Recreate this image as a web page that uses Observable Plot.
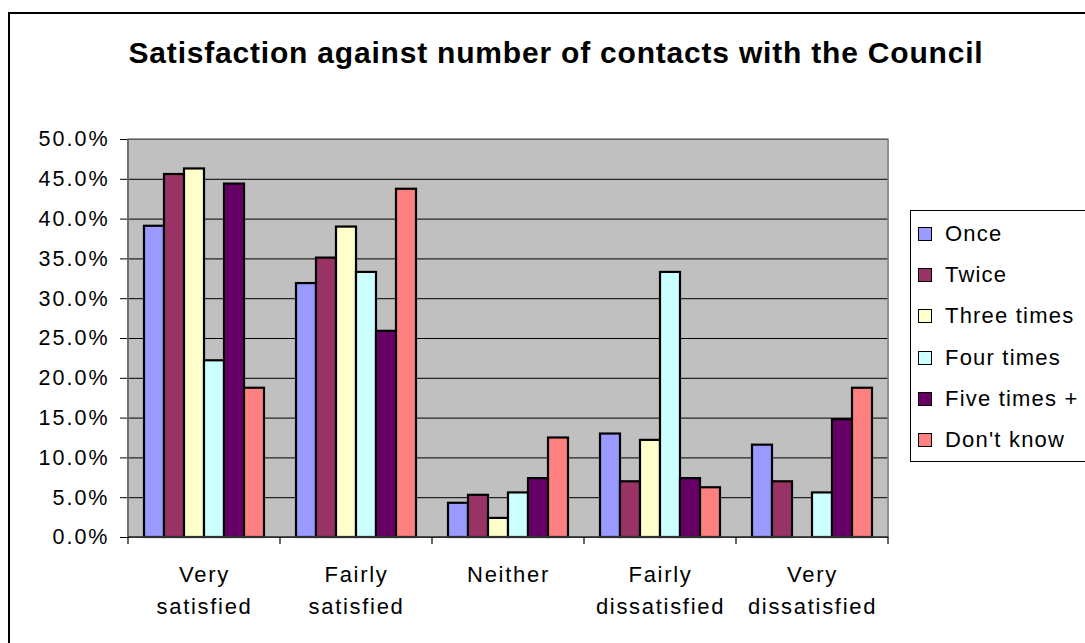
<!DOCTYPE html>
<html>
<head>
<meta charset="utf-8">
<script src="https://cdn.jsdelivr.net/npm/d3@7"></script>
<script src="https://cdn.jsdelivr.net/npm/@observablehq/plot@0.6"></script>
<style>
  html, body { margin: 0; padding: 0; overflow: hidden; background: #fff; }
  body { width: 1085px; height: 643px; position: relative; font-family: "Liberation Sans", Arial, sans-serif; }
  #frame { position: absolute; left: 8px; top: 12px; width: 1200px; height: 800px; border: 2px solid #000; box-sizing: border-box; }
  #title { position: absolute; left: 0; top: 38px; width: 1112px; text-align: center; font-size: 30px; line-height: 30px; font-weight: bold; letter-spacing: 0.8px; color: #000; }
  #chart { position: absolute; left: 0; top: 0; }
  #legend { position: absolute; left: 910px; top: 210px; width: 220px; height: 252px; border: 1.5px solid #000; background: #fff; box-sizing: border-box; }
  .row { position: absolute; left: 0; height: 22px; line-height: 22px; font-size: 22px; letter-spacing: 1.2px; white-space: nowrap; }
  .sw { position: absolute; left: 7px; top: 4px; width: 14px; height: 14px; border: 1.5px solid #000; box-sizing: border-box; }
  .lab { position: absolute; left: 34px; top: 0; }
</style>
</head>
<body>
<div id="frame"></div>
<div id="chart"></div>
<div id="title">Satisfaction against number of contacts with the Council</div>
<div id="legend"></div>
<script>
const categories = ["Very satisfied", "Fairly satisfied", "Neither", "Fairly dissatisfied", "Very dissatisfied"];
const categoryLabels = ["Very\nsatisfied", "Fairly\nsatisfied", "Neither", "Fairly\ndissatisfied", "Very\ndissatisfied"];
const series = ["Once", "Twice", "Three times", "Four times", "Five times +", "Don't know"];
const colors = ["#9999FF", "#993366", "#FFFFCC", "#CCFFFF", "#660066", "#FF8080"];

const once       = [0.391, 0.319, 0.043, 0.130, 0.116];
const twice      = [0.456, 0.351, 0.053, 0.070, 0.070];
const threeTimes = [0.463, 0.390, 0.024, 0.122, 0.000];
const fourTimes  = [0.222, 0.333, 0.056, 0.333, 0.056];
const fivePlus   = [0.444, 0.259, 0.074, 0.074, 0.148];
const dontKnow   = [0.1875, 0.4375, 0.125, 0.0625, 0.1875];

const yTicks = [0, 0.05, 0.10, 0.15, 0.20, 0.25, 0.30, 0.35, 0.40, 0.45, 0.50];

const seriesValues = [once, twice, threeTimes, fourTimes, fivePlus, dontKnow];
const data = categories.flatMap((c, i) =>
  series.map((s, j) => ({category: c, series: s, value: seriesValues[j][i]}))
);

const plot = Plot.plot({
  width: 1085,
  height: 643,
  marginLeft: 128,
  marginRight: 197,
  marginTop: 139,
  marginBottom: 106,
  style: {fontFamily: "'Liberation Sans', Arial, sans-serif", background: "transparent", color: "#000", overflow: "visible"},
  fx: {domain: categories, padding: 0, label: null, axis: null},
  x: {domain: series, paddingInner: 0, paddingOuter: 0.725, axis: null},
  y: {domain: [0, 0.5], label: null},
  color: {domain: series, range: colors},
  marks: [
    Plot.frame({fill: "#C0C0C0", shapeRendering: "crispEdges"}),
    Plot.ruleY(yTicks, {stroke: "#000", strokeWidth: 1}),
    Plot.barY(data.filter(d => d.value > 0), {
      fx: "category", x: "series", y: "value",
      fill: "series", stroke: "#000", strokeWidth: 2.2
    }),
    Plot.axisY(yTicks, {
      tickSize: 8, tickPadding: 11, tickFormat: d3.format(".1%"),
      fontSize: 21.5, label: null, stroke: "#000", fill: "#000"
    }),
    Plot.axisFx({
      anchor: "bottom",
      tickSize: 0, tickPadding: 22, fontSize: 22, lineHeight: 1.45, label: null,
      tickFormat: d => categoryLabels[categories.indexOf(d)], fill: "#000"
    })
  ]
});

document.getElementById("chart").appendChild(plot);

const svgSel = d3.select(plot.tagName.toLowerCase() === "svg" ? plot : plot.querySelector("svg"));
svgSel.selectAll('[aria-label="y-axis tick label"] text').style("letter-spacing", "2px");
svgSel.selectAll('[aria-label="fx-axis tick label"] text').style("letter-spacing", "1.7px");

// plot-area border, x axis line and category boundary ticks, from the library's scales
const fx = plot.scale("fx");
const ys = plot.scale("y");
const yBottom = ys.apply(0), yTop = ys.apply(0.5);
const xLeft = fx.apply(categories[0]);
const bounds = categories.map(c => fx.apply(c)).concat([fx.apply(categories[categories.length - 1]) + fx.bandwidth]);
const xRight = bounds[bounds.length - 1];
const g = svgSel.append("g");
g.append("rect").attr("x", xLeft).attr("y", yTop).attr("width", xRight - xLeft).attr("height", yBottom - yTop)
  .attr("fill", "none").attr("stroke", "#808080").attr("stroke-width", 1.5);
g.append("line").attr("x1", xLeft).attr("x2", xLeft).attr("y1", yTop).attr("y2", yBottom).attr("stroke", "#606060").attr("stroke-width", 1.5);
g.append("line").attr("x1", xLeft).attr("x2", xRight).attr("y1", yBottom).attr("y2", yBottom).attr("stroke", "#000").attr("stroke-width", 1.2);
bounds.forEach(b => {
  g.append("line").attr("x1", b).attr("x2", b).attr("y1", yBottom).attr("y2", yBottom + 7).attr("stroke", "#000").attr("stroke-width", 1.2);
});

// legend
const legend = document.getElementById("legend");
series.forEach((s, i) => {
  const row = document.createElement("div");
  row.className = "row";
  row.style.top = (233 - 210 - 11 + 41.2 * i) + "px";
  const sw = document.createElement("div");
  sw.className = "sw";
  sw.style.background = colors[i];
  const lab = document.createElement("div");
  lab.className = "lab";
  lab.textContent = s;
  row.appendChild(sw);
  row.appendChild(lab);
  legend.appendChild(row);
});
</script>
</body>
</html>
